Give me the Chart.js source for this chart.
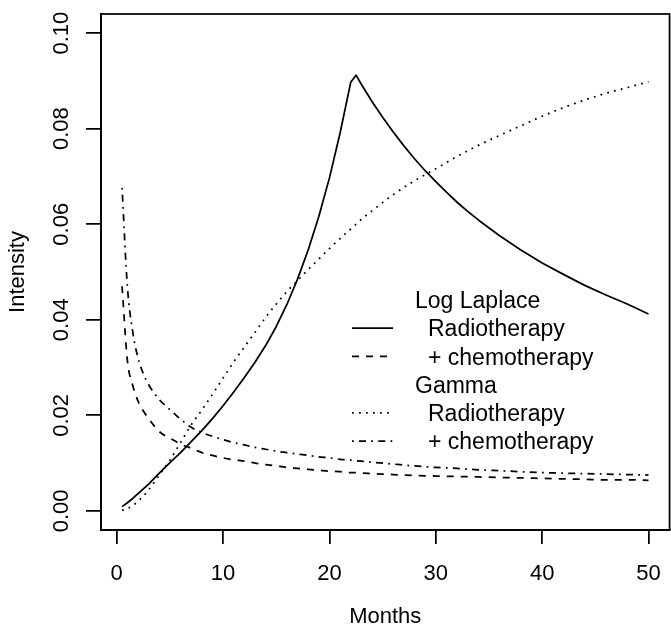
<!DOCTYPE html>
<html>
<head>
<meta charset="utf-8">
<script src="https://cdn.jsdelivr.net/npm/chart.js@4.4.1/dist/chart.umd.min.js"></script>
<style>
  html, body { margin: 0; padding: 0; background: #fff; overflow: hidden; }
</style>
</head>
<body>
<canvas id="intensityChart" width="680" height="628"></canvas>
<script>
const months = [0.5, 1, 1.5, 2, 2.5, 3, 4, 5, 6, 7, 8, 9, 10, 11, 12, 13, 14, 15, 16, 17, 18, 19, 20, 21, 22, 22.5, 23,
  24, 26, 28, 30, 32, 34, 36, 38, 40, 42, 44, 46, 48, 50];
// the log Laplace radiotherapy curve has a sharp peak, so it was read more densely
const llRadioMonths = [0.5, 1, 1.5, 2, 2.5, 3, 4, 5, 6, 7, 8, 9, 10, 11, 12, 13, 14, 15, 16, 17, 18, 19, 20, 21, 22, 22.5,
  23, 24, 25, 26, 27, 28, 29, 30, 31, 32, 33, 34, 36, 38, 40, 42, 44, 46, 48, 50];

// Log Laplace
const llRadio = [0.0009, 0.0017, 0.0026, 0.0036, 0.0046, 0.0056, 0.0079, 0.0101, 0.0122, 0.0145, 0.0168, 0.0193, 0.0220,
  0.0249, 0.0279, 0.0311, 0.0346, 0.0386, 0.0432, 0.0485, 0.0546, 0.0616, 0.0697, 0.0791, 0.0897, 0.0912,
  0.0893, 0.0857, 0.0824, 0.0793, 0.0764, 0.0737, 0.0712, 0.0689, 0.0667, 0.0646, 0.0627, 0.0609,
  0.0576, 0.0546, 0.0519, 0.0495, 0.0472, 0.0452, 0.0433, 0.0412];
const llChemo = [0.0470, 0.0315, 0.0263, 0.0230, 0.0209, 0.0193, 0.0166, 0.0152, 0.0140, 0.0131, 0.0122, 0.0116, 0.0111,
  0.0107, 0.0104, 0.0100, 0.0097, 0.0094, 0.0091, 0.0089, 0.0087, 0.0085, 0.0083, 0.0082, 0.0080, 0.0080, 0.0079,
  0.0078, 0.0076, 0.0074, 0.0073, 0.0072, 0.0071, 0.0070, 0.0069, 0.0068, 0.0067, 0.0066, 0.0065, 0.0065, 0.0064];

// Gamma
const gamRadio = [0.0001, 0.0005, 0.0011, 0.0020, 0.0031, 0.0044, 0.0075, 0.0106, 0.0143, 0.0180, 0.0211, 0.0244, 0.0278,
  0.0312, 0.0343, 0.0374, 0.0405, 0.0433, 0.0459, 0.0482, 0.0505, 0.0527, 0.0549, 0.0570, 0.0590, 0.0600, 0.0610,
  0.0628, 0.0662, 0.0691, 0.0716, 0.0742, 0.0765, 0.0786, 0.0806, 0.0826, 0.0844, 0.0860, 0.0874, 0.0886, 0.0898];
const gamChemo = [0.0676, 0.0470, 0.0375, 0.0320, 0.0287, 0.0264, 0.0233, 0.0212, 0.0192, 0.0175, 0.0164, 0.0156, 0.0149,
  0.0143, 0.0138, 0.0133, 0.0129, 0.0125, 0.0122, 0.0119, 0.0116, 0.0113, 0.0111, 0.0108, 0.0106, 0.0105, 0.0104,
  0.0102, 0.0098, 0.0094, 0.0091, 0.0089, 0.0086, 0.0084, 0.0082, 0.0080, 0.0079, 0.0078, 0.0077, 0.0076, 0.0075];

const xTicks = [0, 10, 20, 30, 40, 50];
const yTicks = [0, 0.02, 0.04, 0.06, 0.08, 0.10];
const yTickLabels = ['0.00', '0.02', '0.04', '0.06', '0.08', '0.10'];

const legendRows = [
  { text: 'Log Laplace', series: null },
  { text: 'Radiotherapy', series: 0 },
  { text: '+ chemotherapy', series: 1 },
  { text: 'Gamma', series: null },
  { text: 'Radiotherapy', series: 2 },
  { text: '+ chemotherapy', series: 3 }
];

const LW = 1.75;
const FONT = "'Liberation Sans', Arial, Helvetica, sans-serif";
const dashes = [[], [7, 7], [1.75, 5.25], [1.75, 5.25, 7, 5.25]];

function pts(xs, vals) {
  return xs.map((m, i) => ({ x: m, y: vals[i] }));
}

function line(label, xs, vals, dash, smooth) {
  return {
    label: label,
    data: pts(xs, vals),
    borderColor: '#000',
    borderWidth: LW,
    borderDash: dash,
    borderCapStyle: 'butt',
    borderJoinStyle: 'round',
    pointRadius: 0,
    fill: false,
    tension: 0,
    cubicInterpolationMode: smooth ? 'monotone' : 'default'
  };
}

// box, rotated y tick labels and the legend
const extras = {
  id: 'extras',
  afterDraw(chart) {
    const ctx = chart.ctx;
    const a = chart.chartArea;
    const ys = chart.scales.y;
    ctx.save();
    ctx.strokeStyle = '#000';
    ctx.lineWidth = LW;
    ctx.setLineDash([]);
    ctx.strokeRect(a.left, a.top, a.right - a.left, a.bottom - a.top);

    ctx.fillStyle = '#000';
    ctx.font = '22px ' + FONT;
    ctx.textAlign = 'center';
    ctx.textBaseline = 'alphabetic';
    yTicks.forEach((v, i) => {
      ctx.save();
      ctx.translate(68, ys.getPixelForValue(v));
      ctx.rotate(-Math.PI / 2);
      ctx.fillText(yTickLabels[i], 0, 0);
      ctx.restore();
    });

    ctx.font = '23px ' + FONT;
    ctx.textAlign = 'left';
    legendRows.forEach((row, i) => {
      const cy = 300 + i * 28.2;
      if (row.series === null) {
        ctx.fillText(row.text, 415, cy + 8.2);
      } else {
        ctx.fillText(row.text, 428, cy + 8.2);
        ctx.beginPath();
        ctx.lineCap = 'butt';
        ctx.setLineDash(dashes[row.series]);
        ctx.moveTo(352, cy);
        ctx.lineTo(393, cy);
        ctx.stroke();
        ctx.setLineDash([]);
      }
    });
    ctx.restore();
  }
};

Chart.defaults.font.family = FONT;
Chart.defaults.color = '#000';

new Chart(document.getElementById('intensityChart'), {
  type: 'line',
  data: {
    datasets: [
      line('Log Laplace Radiotherapy', llRadioMonths, llRadio, dashes[0], false),
      line('Log Laplace + chemotherapy', months, llChemo, dashes[1], true),
      line('Gamma Radiotherapy', months, gamRadio, dashes[2], true),
      line('Gamma + chemotherapy', months, gamChemo, dashes[3], true)
    ]
  },
  options: {
    responsive: false,
    animation: false,
    events: [],
    layout: { padding: { top: 14, right: 7, bottom: 0, left: 0 } },
    plugins: { legend: { display: false }, tooltip: { enabled: false } },
    scales: {
      x: {
        type: 'linear',
        min: -1.48,
        max: 51.98,
        afterBuildTicks: s => { s.ticks = xTicks.map(v => ({ value: v })); },
        afterFit: s => { s.height = 98; },
        grid: { drawOnChartArea: false, drawTicks: true, tickLength: 14, color: '#000', lineWidth: LW },
        border: { display: true, color: '#000', width: LW },
        ticks: { font: { size: 22, lineHeight: 1 }, padding: 19, maxRotation: 0, color: '#000' },
        title: { display: true, text: 'Months', font: { size: 22, lineHeight: 1 }, padding: 0, color: '#000' }
      },
      y: {
        type: 'linear',
        min: -0.004,
        max: 0.104,
        afterBuildTicks: s => { s.ticks = yTicks.map(v => ({ value: v })); },
        afterFit: s => { s.width = 101; },
        grid: { drawOnChartArea: false, drawTicks: true, tickLength: 15, color: '#000', lineWidth: LW },
        border: { display: true, color: '#000', width: LW },
        ticks: { display: false },
        title: { display: true, text: 'Intensity', font: { size: 22, lineHeight: 1 }, padding: { top: 7, bottom: 0 }, color: '#000' }
      }
    }
  },
  plugins: [extras]
});
</script>
</body>
</html>
